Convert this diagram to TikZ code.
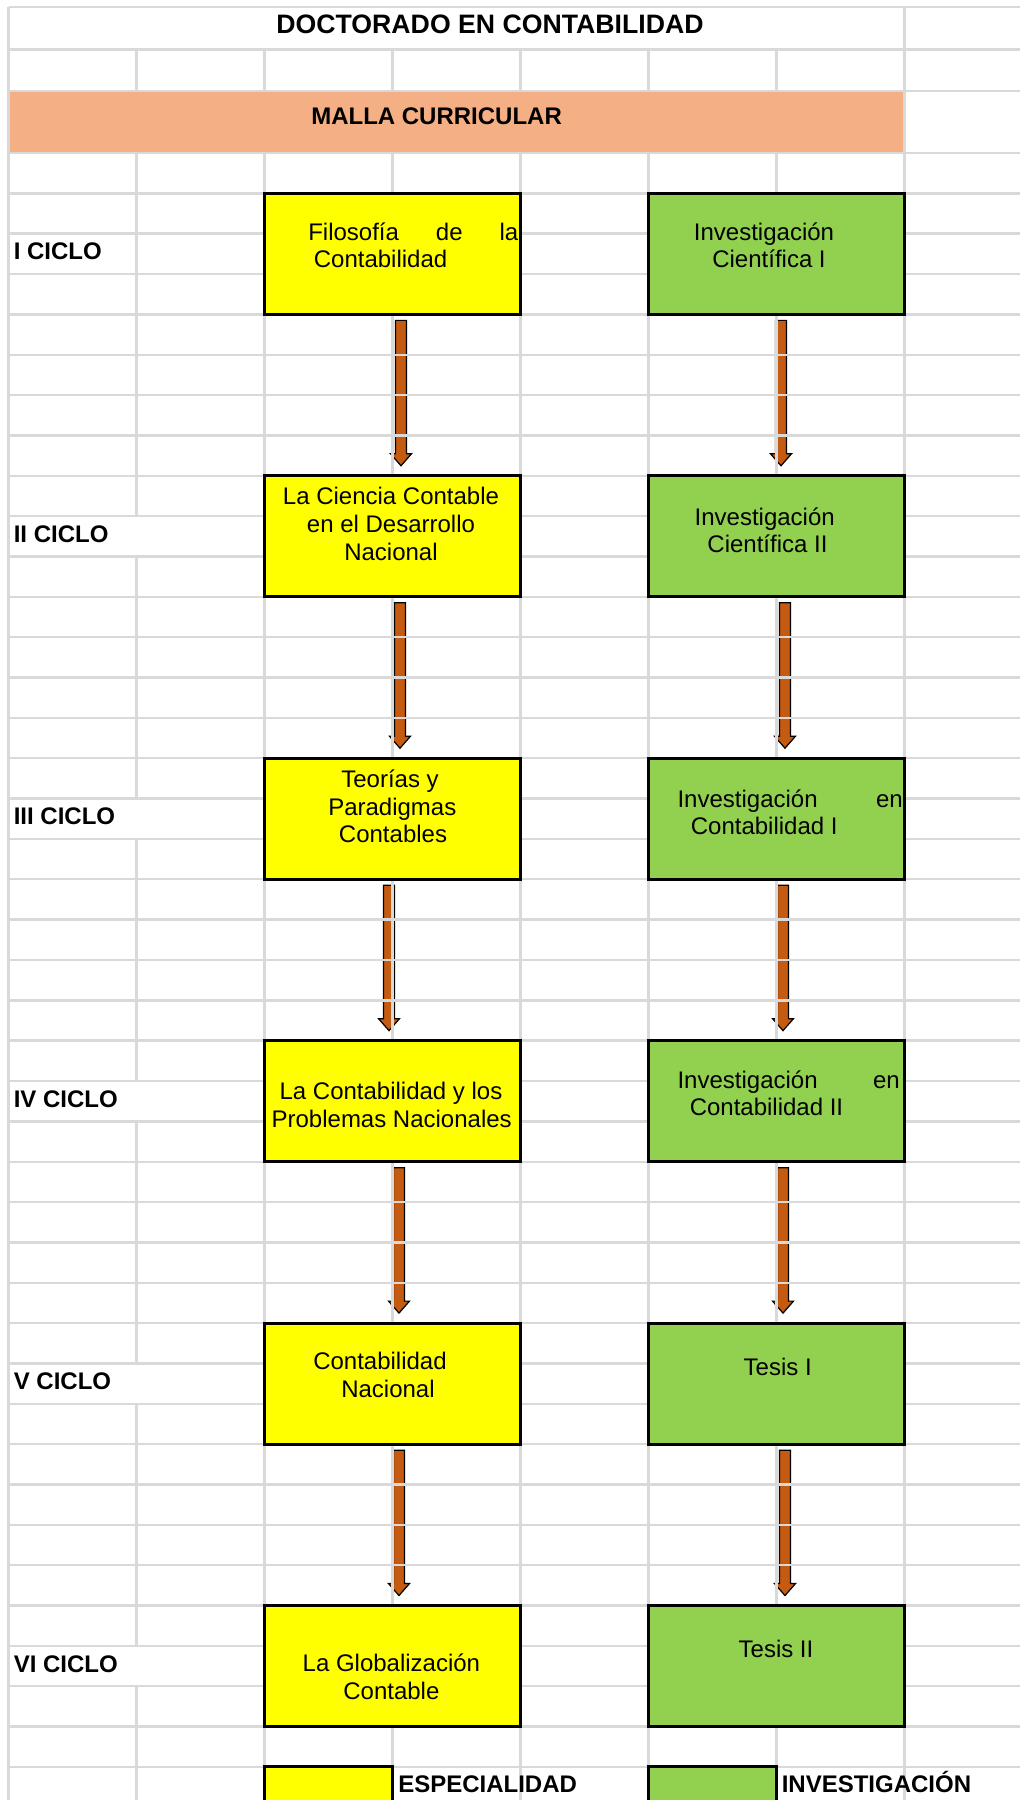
\documentclass[tikz,border=0pt]{standalone}
\usepackage{fontspec}
\setmainfont{Liberation Sans}
\usetikzlibrary{calc}
\definecolor{gridc}{HTML}{D9D9D9}
\definecolor{ybox}{HTML}{FFFF00}
\definecolor{gbox}{HTML}{92D050}
\definecolor{bandc}{HTML}{F4B084}
\definecolor{arrc}{HTML}{C55A11}
\pgfdeclarelayer{bg}
\pgfdeclarelayer{mid}
\pgfsetlayers{bg,mid,main}
\tikzset{
  gridline/.style={draw=gridc, line width=1.8pt},
  cbox/.style={draw=black, line width=2.1pt, minimum width=192pt, minimum height=90.79pt, inner sep=0pt, outer sep=0pt},
  ycbox/.style={cbox, fill=ybox},
  gcbox/.style={cbox, fill=gbox},
  legbox/.style={draw=black, line width=2.1pt, minimum width=96pt, minimum height=33.75pt, inner sep=0pt, outer sep=0pt},
  barrow/.style={fill=arrc, draw=black, line width=0.9pt, line join=miter},
  txt/.style={font=\fontsize{18pt}{20.7pt}\selectfont, inner sep=0pt, anchor=base},
  txtl/.style={txt, anchor=base west},
  lbl/.style={font=\fontsize{18pt}{20.7pt}\selectfont\bfseries, inner sep=0pt, anchor=base west},
}
\newcommand{\blockarr}[3]{%
  \draw[barrow] ($(#1.south)+(#3-5.5,6)$) -- ($(#1.south)+(#3+5.5,6)$)
    -- ($(#2.north)+(#3+5.5,-22)$) -- ($(#2.north)+(#3+10.5,-22)$)
    -- ($(#2.north)+(#3,-10)$) -- ($(#2.north)+(#3-10.5,-22)$)
    -- ($(#2.north)+(#3-5.5,-22)$) -- cycle;}
\begin{document}
\begin{tikzpicture}[x=0.75pt, y=-0.75pt]
\useasboundingbox (0,0) rectangle (1020,1800);
\clip (0,0) rectangle (1020,1800);
\begin{pgfonlayer}{bg}
  \fill[white] (0,0) rectangle (1020,1800);
  \fill[bandc] (8.5,90.7) rectangle (904.5,152.7);
\end{pgfonlayer}

% titles
\node[font=\fontsize{20pt}{23pt}\selectfont\bfseries, inner sep=0pt, anchor=base] (title) at (490,33.7) {DOCTORADO EN CONTABILIDAD};
\node[font=\fontsize{18pt}{20.7pt}\selectfont\bfseries, inner sep=0pt, anchor=base] (malla) at (436.6,124.9) {MALLA CURRICULAR};

% cycle boxes
\node[ycbox] (y1) at (392.5,253.825) {};
\node[gcbox] (g1) at (776.5,253.825) {};
\node[ycbox] (y2) at (392.5,536.275) {};
\node[gcbox] (g2) at (776.5,536.275) {};
\node[ycbox] (y3) at (392.5,818.725) {};
\node[gcbox] (g3) at (776.5,818.725) {};
\node[ycbox] (y4) at (392.5,1101.175) {};
\node[gcbox] (g4) at (776.5,1101.175) {};
\node[ycbox] (y5) at (392.5,1383.625) {};
\node[gcbox] (g5) at (776.5,1383.625) {};
\node[ycbox] (y6) at (392.5,1666.075) {};
\node[gcbox] (g6) at (776.5,1666.075) {};

% cycle labels
\node[lbl] (c1) at (13.5,259.9) {I CICLO};
\node[lbl] (c2) at (13.5,542.35) {II CICLO};
\node[lbl] (c3) at (13.5,824.8) {III CICLO};
\node[lbl] (c4) at (13.5,1107.25) {IV CICLO};
\node[lbl] (c5) at (13.5,1389.7) {V CICLO};
\node[lbl] (c6) at (13.5,1672.15) {VI CICLO};

% texts cycle I
\node[txtl] (y1a) at (308,240) {\hbox to 157.5pt{Filosofía\hfill de\hfill la}};
\node[txtl] (y1b) at (313.6,267.5) {Contabilidad};
\node[txt] (g1a) at (764,240) {Investigación};
\node[txt] (g1b) at (769,267.5) {Científica I};
% cycle II
\node[txt] (y2a) at (391,504.5) {La Ciencia Contable};
\node[txt] (y2b) at (391,532.5) {en el Desarrollo};
\node[txt] (y2c) at (391,560.2) {Nacional};
\node[txt] (g2a) at (764.7,525.2) {Investigación};
\node[txt] (g2b) at (767.5,552.5) {Científica II};
% cycle III
\node[txt] (y3a) at (390,787.2) {Teorías y};
\node[txt] (y3b) at (392.3,815.5) {Paradigmas};
\node[txt] (y3c) at (393,842.2) {Contables};
\node[txtl] (g3a) at (677.3,807.2) {\hbox to 168.9pt{Investigación\hfill en}};
\node[txtl] (g3b) at (690.6,834.5) {Contabilidad I};
% cycle IV
\node[txt] (y4a) at (391,1099.8) {La Contabilidad y los};
\node[txt] (y4b) at (391.7,1127.2) {Problemas Nacionales};
\node[txtl] (g4a) at (677.3,1088.2) {\hbox to 166.7pt{Investigación\hfill en}};
\node[txtl] (g4b) at (689.5,1115.5) {Contabilidad II};
% cycle V
\node[txt] (y5a) at (380,1369.2) {Contabilidad};
\node[txt] (y5b) at (388,1397.5) {Nacional};
\node[txt] (g5a) at (777.7,1375.2) {Tesis I};
% cycle VI
\node[txt] (y6a) at (391.4,1671.8) {La Globalización};
\node[txt] (y6b) at (391.4,1699.2) {Contable};
\node[txt] (g6a) at (776,1657.8) {Tesis II};

% legend
\node[legbox, fill=ybox] (ly) at (328.5,1789.2) {};
\node[legbox, fill=gbox] (lg) at (712.5,1789.2) {};
\node[lbl] (lyt) at (398,1792.6) {ESPECIALIDAD};
\node[lbl] (lgt) at (781.5,1792.6) {INVESTIGACIÓN};

\begin{pgfonlayer}{mid}
  % arrows
  \blockarr{y1}{y2}{8.5}
  \blockarr{y2}{y3}{7.5}
  \blockarr{y3}{y4}{-3.5}
  \blockarr{y4}{y5}{6.5}
  \blockarr{y5}{y6}{6.5}
  \blockarr{g1}{g2}{4.5}
  \blockarr{g2}{g3}{8.5}
  \blockarr{g3}{g4}{6.5}
  \blockarr{g4}{g5}{6.5}
  \blockarr{g5}{g6}{8.5}
  % grid horizontal
  \foreach \yy in {6.7,49.3,90.7,152.7}
    \draw[gridline] (8.5,\yy) -- (1020,\yy);
  \foreach \k in {0,...,40}
    \draw[gridline] (8.5,{193.3+40.35*\k}) -- (1020,{193.3+40.35*\k});
  % grid vertical
  \draw[gridline] (8.5,6.7) -- (8.5,1800);
  \draw[gridline] (904.5,6.7) -- (904.5,1800);
  \foreach \xx in {264.5,392.5,520.5,648.5,776.5} {
    \draw[gridline] (\xx,49.3) -- (\xx,90.7);
    \draw[gridline] (\xx,152.7) -- (\xx,1800);
  }
  \draw[gridline] (136.5,49.3) -- (136.5,90.7);
  \draw[gridline] (136.5,152.7) -- (136.5,516.1);
  \foreach \k in {1,...,4}
    \draw[gridline] (136.5,{193.3+282.45*\k+80.7}) -- (136.5,{193.3+282.45*(\k+1)+40.35});
  \draw[gridline] (136.5,{193.3+282.45*5+80.7}) -- (136.5,1800);
\end{pgfonlayer}
\end{tikzpicture}
\end{document}
